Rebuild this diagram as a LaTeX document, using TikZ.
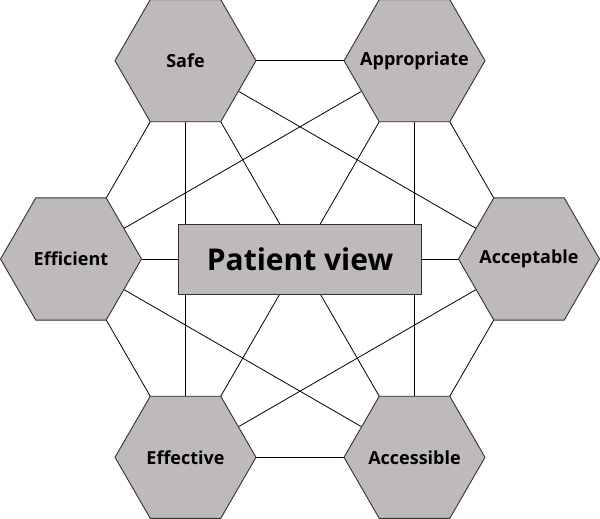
\documentclass[tikz,border=0pt]{standalone}
\usepackage{fontspec}
\setmainfont{Open Sans}
\usepackage{tikz}
\tikzset{every picture/.style={line width=0.75pt}}
\usepackage{color}
\usetikzlibrary{shapes}
\pgfdeclarelayer{background}
\pgfsetlayers{background,main}
\definecolor{hexgray}{RGB}{189,186,185}
\definecolor{hexline}{RGB}{50,50,50}
\tikzset{
  hexa/.style={regular polygon, regular polygon sides=6, minimum size=141pt, inner sep=0pt, outer sep=0pt,
    fill=hexgray, draw=hexline, line width=0.9pt,
    label={[font=\bfseries\fontsize{18}{20}\selectfont, inner sep=0pt]center:#1}},
  viewbox/.style={rectangle, minimum width=243pt, minimum height=70pt, inner sep=0pt,
    fill=hexgray, draw=hexline, line width=0.9pt, font=\bfseries\fontsize{30}{34}\selectfont},
  link/.style={draw=black, line width=0.8pt}
}
\begin{document}
\begin{tikzpicture}[x=1pt,y=1pt,yscale=-1]
\useasboundingbox (0,0) rectangle (600,519);

% Hexagons
\node [hexa=Safe] (safe) at (185.5,60.7) {};
\node [hexa=Appropriate] (appropriate) at (414.5,60.7) {};
\node [hexa=Efficient] (efficient) at (71,259) {};
\node [hexa=Acceptable] (acceptable) at (529,259) {};
\node [hexa=Effective] (effective) at (185.5,457.3) {};
\node [hexa=Accessible] (accessible) at (414.5,457.3) {};

% Text Node
\node [viewbox] (patient) at (300,259) {Patient view};

% Straight Lines
\begin{pgfonlayer}{background}
\foreach \a/\b in {safe/appropriate, safe/efficient, safe/acceptable, safe/effective, safe/accessible,
    appropriate/efficient, appropriate/acceptable, appropriate/effective, appropriate/accessible,
    efficient/acceptable, efficient/effective, efficient/accessible,
    acceptable/effective, acceptable/accessible, effective/accessible}
  \draw [link] (\a) -- (\b);
\end{pgfonlayer}
\end{tikzpicture}
\end{document}
